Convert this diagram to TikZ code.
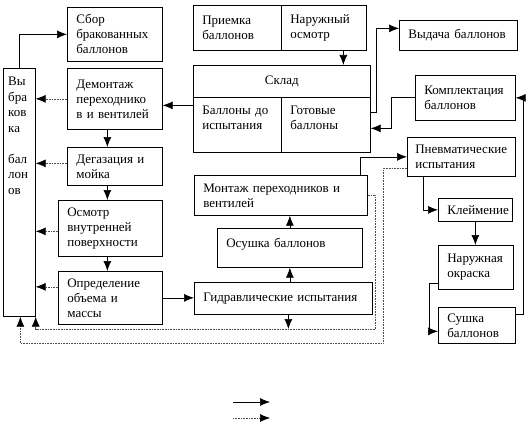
\documentclass[tikz,border=0pt]{standalone}
\usepackage{fontspec}
\setmainfont{Liberation Serif}
\usetikzlibrary{arrows.meta,calc}
\newcommand\fs{\fontsize{13}{15}\selectfont\hyphenpenalty=10000 }
\newcommand\bx[6]{\pgfmathsetmacro\tw{#4-18}\node[box, minimum width=#4pt, minimum height=#5pt, text width=\tw pt] (#1) at (#2,#3) {#6};}
\begin{document}
\begin{tikzpicture}[x=1pt,y=-1pt,
  box/.style={draw, line width=0.7pt, anchor=north west, inner xsep=9pt, inner ysep=0pt, align=left, font=\fs},
  arr/.style={line width=0.7pt, -{Latex[length=10pt,width=8pt]}},
  darr/.style={line width=0.6pt, densely dotted, draw=black!70, -{Latex[length=10pt,width=8pt,fill=black,color=black]}}]
\useasboundingbox (0,0) rectangle (529,425);
% boxes
\bx{sbor}{67}{7}{95}{54}{Сбор\\бракованных\\баллонов}
\node[draw, line width=0.7pt, anchor=north west, minimum width=32pt, minimum height=248pt, inner sep=0pt] (vyb) at (3,68) {};
\node[anchor=north west, align=left, inner sep=0pt, font=\fontsize{13}{15.5}\selectfont] (vybtxt) at (8,77) {Вы\\бра\\ков\\ка\\[15.5pt]бал\\лон\\ов};
\bx{dem}{67}{68}{95}{61}{Демонтаж\\переходнико\\в и вентилей}
\bx{deg}{67}{147}{95}{38}{Дегазация и\\мойка}
\bx{osm}{58}{200}{104}{56}{Осмотр\\внутренней\\поверхности}
\bx{opr}{58}{271}{104}{53}{Определение\\объема и\\массы}
\bx{gid}{194}{282}{178}{32}{Гидравлические испытания}
\bx{osh}{217}{228}{145}{39}{Осушка баллонов\\[-5pt]\mbox{}}
\bx{mon}{194}{175}{173}{40}{Монтаж переходников и\\вентилей}
\bx{pri}{193}{5}{88}{45}{Приемка\\баллонов}
\bx{nar}{281}{5}{85}{45}{Наружный\\осмотр}
\node[box, align=center, minimum width=177pt, minimum height=32pt, text width=159pt] (skl) at (193,65) {Склад};
\bx{bal}{193}{97}{88}{55}{Баллоны до\\испытания\\\mbox{}}
\bx{got}{281}{97}{89}{55}{Готовые\\баллоны\\\mbox{}}
\bx{vyd}{399}{20}{118}{30}{Выдача баллонов}
\bx{kom}{415}{75}{100}{45}{Комплектация\\баллонов}
\node[box, inner xsep=8pt, minimum width=108pt, minimum height=39pt, text width=92pt] (pnev) at (407,137) {Пневматические\\испытания};
\bx{kle}{438}{198}{74}{23}{Клеймение}
\bx{okr}{438}{245}{75}{44}{Наружная\\окраска}
\bx{sush}{438}{307}{77}{36}{Сушка\\баллонов}
% helper coordinates
\coordinate (lowB) at (0,329);
\coordinate (lowA) at (0,343);
% solid connectors
\draw[arr] (vyb.north) |- (sbor.west);
\draw[arr] ([xshift=-7.5pt]dem.south) -- ([xshift=-7.5pt]dem.south |- deg.north);
\draw[arr] ([xshift=-7.5pt]deg.south) -- ([xshift=-7.5pt]deg.south |- osm.north);
\draw[arr] ([xshift=-3pt]osm.south) -- ([xshift=-3pt]osm.south |- opr.north);
\draw[arr] (opr.east) -- (opr.east -| gid.west);
\draw[arr] ([yshift=19.5pt]bal.west) -- ([yshift=19.5pt]bal.west -| dem.east);
\draw[arr] ([xshift=19.5pt]nar.south) -- ([xshift=19.5pt]nar.south |- skl.north);
\draw[arr] ([yshift=12.5pt]got.east) -- ++(6,0) |- ([yshift=7pt]vyd.west);
\draw[arr] (kom.west) -- ++(-24,0) |- ([yshift=-3.5pt]got.east);
\draw[arr] ([yshift=11pt]sush.east) -- ++(8,0) |- (kom.east);
\draw[arr] ([yshift=-16pt]okr.west) -- ++(-9,0) |- ([yshift=-6pt]sush.west);
\draw[arr] (kle.south) -- (kle.south |- okr.north);
\draw[arr] ([xshift=-38pt]pnev.south) |- (kle.west);
\draw[arr] ([xshift=-7pt]mon.north east) |- (pnev.west);
\draw[arr] (gid.north -| osh.south) -- (osh.south);
\draw[arr] (osh.north) -- (osh.north |- mon.south);
\draw[arr] ([xshift=5pt]gid.south) -- ([xshift=5pt]gid.south |- lowB);
% dotted connectors
\draw[darr] (dem.west) -- (dem.west -| vyb.east);
\draw[darr] ([yshift=3pt]deg.west) -- ([yshift=3pt]deg.west -| vyb.east);
\draw[darr] ([yshift=-3pt]osm.west) -- ([yshift=-3pt]osm.west -| vyb.east);
\draw[darr] ([yshift=11pt]opr.west) -- ([yshift=11pt]opr.west -| vyb.east);
\draw[darr] (mon.east) -- ++(8,0) |- (vyb.south east |- lowB) -- (vyb.south east);
\draw[darr] ([yshift=-11.5pt]pnev.west) -- ++(-24,0) |- ([xshift=1pt]vyb.south |- lowA) -- ([xshift=1pt]vyb.south);
% legend
\coordinate (l1a) at (233,402); \coordinate (l1b) at (270,402);
\coordinate (l2a) at (233,418); \coordinate (l2b) at (270,418);
\draw[arr] (l1a) -- (l1b);
\draw[darr] (l2a) -- (l2b);
\end{tikzpicture}
\end{document}
